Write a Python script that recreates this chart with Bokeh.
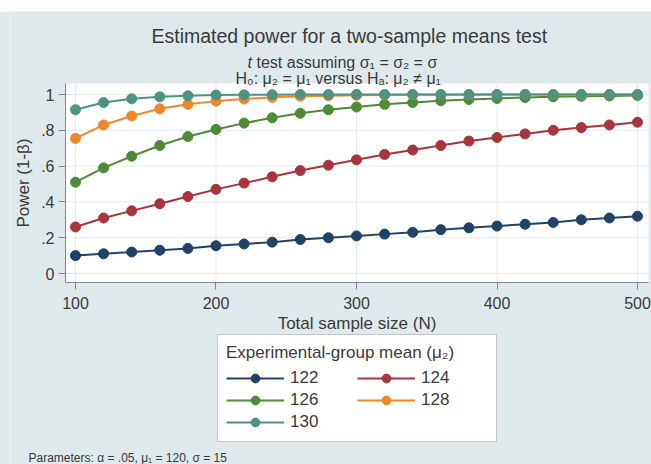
from bokeh.plotting import figure
from bokeh.models import (Legend, LegendItem, Label, CustomJSTickFormatter,
                          FixedTicker, Range1d, BoxAnnotation)
from bokeh.embed import file_html
from bokeh.resources import INLINE

# ---------------- data ----------------
sample_size = [100, 120, 140, 160, 180, 200, 220, 240, 260, 280, 300,
               320, 340, 360, 380, 400, 420, 440, 460, 480, 500]
power_122 = [0.10, 0.11, 0.12, 0.13, 0.14, 0.155, 0.165, 0.175, 0.19, 0.20, 0.21,
             0.22, 0.23, 0.245, 0.255, 0.265, 0.275, 0.285, 0.30, 0.31, 0.32]
power_124 = [0.26, 0.31, 0.35, 0.39, 0.43, 0.47, 0.505, 0.54, 0.575, 0.605, 0.635,
             0.665, 0.69, 0.715, 0.74, 0.76, 0.78, 0.80, 0.815, 0.83, 0.845]
power_126 = [0.51, 0.59, 0.655, 0.715, 0.765, 0.805, 0.84, 0.87, 0.895, 0.915, 0.93,
             0.945, 0.955, 0.965, 0.972, 0.978, 0.983, 0.987, 0.99, 0.992, 0.994]
power_128 = [0.755, 0.83, 0.88, 0.92, 0.945, 0.963, 0.975, 0.984, 0.99, 0.993, 0.996,
             0.997, 0.998, 0.999, 0.999, 1.0, 1.0, 1.0, 1.0, 1.0, 1.0]
power_130 = [0.915, 0.955, 0.976, 0.987, 0.993, 0.997, 0.998, 0.999, 1.0, 1.0, 1.0,
             1.0, 1.0, 1.0, 1.0, 1.0, 1.0, 1.0, 1.0, 1.0, 1.0]
group_means = ["122", "124", "126", "128", "130"]
series = [power_122, power_124, power_126, power_128, power_130]
colors = ["#1f4266", "#a8353b", "#4f8a37", "#f0862a", "#4e9282"]

x_ticks = [100, 200, 300, 400, 500]
y_ticks = [0, 0.2, 0.4, 0.6, 0.8, 1]

title_text = "Estimated power for a two-sample means test"
subtitle_1 = "test assuming σ₁ = σ₂ = σ"
subtitle_2 = "H₀: μ₂ = μ₁  versus  Hₐ: μ₂ ≠ μ₁"
legend_title = "Experimental-group mean (μ₂)"
note_text = "Parameters: α = .05, μ₁ = 120, σ = 15"

FONT = "Liberation Sans"
TXT = "#3a3a3a"
BG = "#dfe9ec"
AXC = "#7d898f"

# plot-area extent (data units) inside a frame that spans the whole graph region
PX0, PX1 = 92.88, 507.83
PY0, PY1 = -0.0503, 1.0615

p = figure(frame_width=641, frame_height=453, output_backend="svg",
           toolbar_location=None,
           x_range=Range1d(53.74, 509.96), y_range=Range1d(-1.067, 1.4637),
           min_border_left=80, min_border_right=0, min_border_top=0,
           min_border_bottom=0)
p.margin = (11, 0, 0, -70)
p.border_fill_color = BG
p.background_fill_color = BG
p.outline_line_color = None
p.grid.visible = False

# white plot region + grid lines
p.add_layout(BoxAnnotation(left=PX0, right=PX1, bottom=PY0, top=PY1,
                           fill_color="white", fill_alpha=1, line_color=None,
                           level="underlay"))
p.segment(x0=x_ticks, y0=[PY0] * len(x_ticks), x1=x_ticks, y1=[PY1] * len(x_ticks),
          line_color="#e3ebee", line_width=1)
p.segment(x0=[PX0] * len(y_ticks), y0=y_ticks, x1=[PX1] * len(y_ticks), y1=y_ticks,
          line_color="#e3ebee", line_width=1)

rends = []
for ys, c in zip(series, colors):
    lr = p.line(sample_size, ys, line_color=c, line_width=2)
    sr = p.scatter(sample_size, ys, marker="circle", size=10, fill_color=c, line_color=c)
    rends.append((lr, sr))

# axes drawn at the edges of the plot region
xa, ya = p.xaxis[0], p.yaxis[0]
xa.fixed_location = PY0
ya.fixed_location = PX0
xa.bounds = (PX0, PX1)
ya.bounds = (PY0, PY1)
xa.ticker = FixedTicker(ticks=x_ticks)
ya.ticker = FixedTicker(ticks=y_ticks)
ya.formatter = CustomJSTickFormatter(code="""
    if (tick == 0) return "0";
    if (tick == 1) return "1";
    return tick.toFixed(1).replace(/^0/, "");
""")
for ax in (xa, ya):
    ax.axis_line_color = AXC
    ax.major_tick_line_color = AXC
    ax.major_tick_out = 7
    ax.major_tick_in = 0
    ax.minor_tick_line_color = None
    ax.major_label_text_font = FONT
    ax.major_label_text_font_size = "16px"
    ax.major_label_text_color = TXT
    ax.axis_label_text_font = FONT
    ax.axis_label_text_font_size = "17px"
    ax.axis_label_text_color = TXT
    ax.axis_label_text_font_style = "normal"
xa.axis_label = "Total sample size (N)"
ya.axis_label = "Power (1-β)"
xa.major_label_standoff = 7
xa.axis_label_standoff = 2
ya.major_label_standoff = 4
ya.axis_label_standoff = 5


# texts: screen units relative to the frame (frame left = canvas x 10, bottom = canvas y 464)
def add_label(text, cx, cy, size, align="left", style="normal"):
    p.add_layout(Label(x=cx - 10, y=464 - cy, x_units="screen", y_units="screen",
                       text=text, text_font=FONT, text_font_size=size,
                       text_color=TXT, text_align=align, text_font_style=style,
                       text_baseline="alphabetic"))


add_label(title_text, 151, 35, "19.5px")
add_label("t", 247, 62, "16px", style="italic")
add_label(subtitle_1, 256, 62, "16px")
add_label(subtitle_2, 235, 78, "16px")
add_label(note_text, 28, 457, "12px")

legend = Legend(
    items=[LegendItem(label=lab, renderers=[lr, sr])
           for lab, (lr, sr) in zip(group_means, rends)],
    title=legend_title, orientation="horizontal", ncols=2, location=(207, 22),
    border_line_color="#8c8c8c", border_line_width=1,
    background_fill_color="white", background_fill_alpha=1,
    title_text_font=FONT, title_text_font_size="17px", title_text_color=TXT,
    title_text_font_style="normal", title_standoff=4,
    label_text_font=FONT, label_text_font_size="17px", label_text_color=TXT,
    glyph_width=58, glyph_height=22, label_height=22, label_width=67,
    label_standoff=6, spacing=0, padding=8, margin=0)
p.add_layout(legend, "center")

open("out.html", "w").write(file_html(p, INLINE))
